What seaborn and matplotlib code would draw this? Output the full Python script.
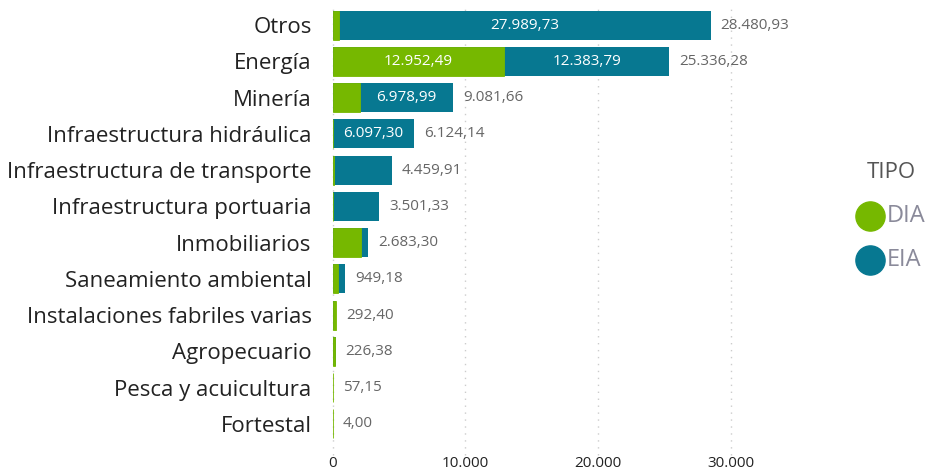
import matplotlib
matplotlib.use("Agg")
import matplotlib.pyplot as plt
import matplotlib.transforms as mtrans
import seaborn as sns
import pandas as pd

categories = ["Otros", "Energía", "Minería", "Infraestructura hidráulica",
              "Infraestructura de transporte", "Infraestructura portuaria",
              "Inmobiliarios", "Saneamiento ambiental",
              "Instalaciones fabriles varias", "Agropecuario",
              "Pesca y acuicultura", "Fortestal"]
dia = [491.20, 12952.49, 2102.67, 26.84, 140.00, 0.0, 2150.00, 380.00,
       292.40, 200.00, 57.15, 4.00]
eia = [27989.73, 12383.79, 6978.99, 6097.30, 4319.91, 3501.33, 533.30, 569.18,
       0.0, 26.38, 0.0, 0.0]
totals = [28480.93, 25336.28, 9081.66, 6124.14, 4459.91, 3501.33, 2683.30,
          949.18, 292.40, 226.38, 57.15, 4.00]
xticks = [0, 10000, 20000, 30000]
xtick_labels = ["0", "10.000", "20.000", "30.000"]
legend_title = "TIPO"
series_names = ["DIA", "EIA"]

GREEN = "#76b800"
TEAL = "#077891"

df = pd.DataFrame({"cat": categories, "dia": dia, "eia": eia, "total": totals})

def fmt(v):
    s = f"{v:,.2f}"
    return s.replace(",", "X").replace(".", ",").replace("X", ".")

sns.set_theme(style="white")
plt.rcParams["font.family"] = ["Open Sans", "DejaVu Sans"]

fig = plt.figure(figsize=(9.29, 4.74), dpi=100)
ax = fig.add_axes([0.358, 0.0675, 0.50, 0.9175])

sns.barplot(data=df, x="total", y="cat", color=TEAL, saturation=1,
            width=0.8, ax=ax, orient="h", linewidth=0, edgecolor="none")
sns.barplot(data=df, x="dia", y="cat", color=GREEN, saturation=1,
            width=0.8, ax=ax, orient="h", linewidth=0.6, edgecolor=GREEN)

ax.set_xlim(0, 35000)
ax.set_ylim(11.5, -0.5)
ax.set_xticks(xticks)
ax.set_xticklabels(xtick_labels, fontsize=11, color="#222222")
ax.set_xlabel("")
ax.set_ylabel("")
ax.tick_params(axis="y", labelsize=16, colors="#222222", pad=15, length=0)
ax.tick_params(axis="x", pad=10, length=0)
for s in ax.spines.values():
    s.set_visible(False)
ax.grid(False)
for xv in xticks:
    ax.axvline(xv, color="#cccccc", linestyle=(0, (1, 4)), lw=1,
               ymin=-0.03, ymax=1.0, clip_on=False, zorder=0)

off = mtrans.offset_copy(ax.transData, fig=fig, x=10, y=0, units="dots")
for i, row in df.iterrows():
    ax.text(row["total"], i, fmt(row["total"]), transform=off,
            va="center", ha="left", fontsize=11, color="#666666")
    if row["dia"] > 5000:
        ax.text(row["dia"] / 2, i, fmt(row["dia"]), va="center", ha="center",
                fontsize=11, color="white")
    if row["eia"] > 5000:
        ax.text(row["dia"] + row["eia"] / 2, i, fmt(row["eia"]), va="center",
                ha="center", fontsize=11, color="white")

# legend drawn in figure pixel coordinates
W, H = 929, 474
fig.text(891 / W, 1 - 172 / H, legend_title, ha="center", va="center",
         fontsize=16, color="#555555")
for k, (name, col) in enumerate(zip(series_names, (GREEN, TEAL))):
    yy = 1 - (216 + 44 * k) / H
    fig.lines.append(plt.Line2D([870 / W], [yy], marker="o", markersize=21,
                                markerfacecolor=col, markeredgecolor=col,
                                linestyle="", transform=fig.transFigure))
    fig.text(887 / W, yy, name, ha="left", va="center", fontsize=17,
             color="#8a8a9a")

fig.savefig("out.png", dpi=100)
